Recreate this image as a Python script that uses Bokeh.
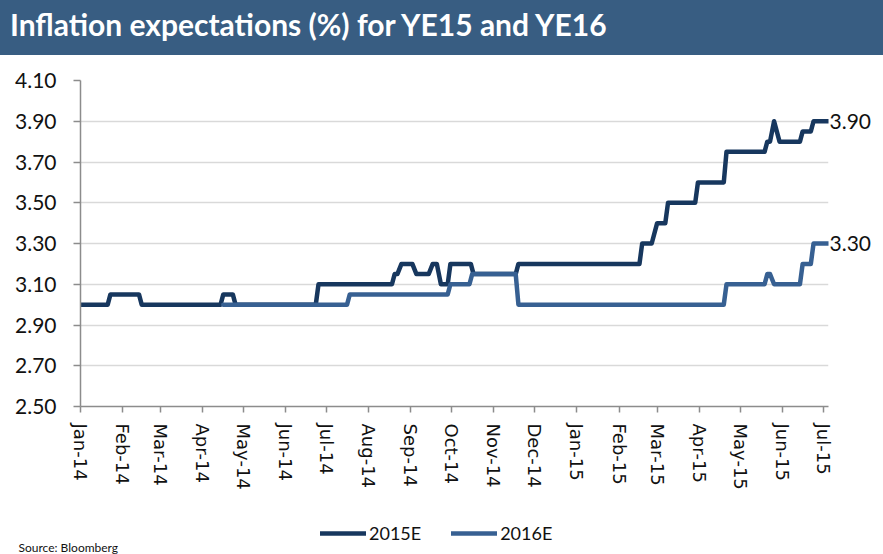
import pandas as pd
from bokeh.plotting import figure
from bokeh.layouts import column
from bokeh.models import (Div, Range1d, FixedTicker, DatetimeTickFormatter,
                          NumeralTickFormatter, Legend, LegendItem, Label,
                          LinearAxis, ColumnDataSource)
from bokeh.embed import file_html
from bokeh.resources import INLINE

TITLE = "Inflation expectations (%) for YE15 and YE16"
SERIES_NAMES = ["2015E", "2016E"]
SOURCE_TEXT = "Source: Bloomberg"

dates_2015e = ["2014-01-01", "2014-01-21", "2014-01-23", "2014-02-13", "2014-02-15",
               "2014-04-14", "2014-04-16", "2014-04-23", "2014-04-25", "2014-06-23",
               "2014-06-25", "2014-08-18", "2014-08-20", "2014-08-22", "2014-08-25",
               "2014-09-02", "2014-09-05", "2014-09-14", "2014-09-17", "2014-09-20",
               "2014-09-23", "2014-09-28", "2014-09-30", "2014-10-15", "2014-10-17",
               "2014-11-17", "2014-11-19", "2015-02-16", "2015-02-18", "2015-02-25",
               "2015-03-01", "2015-03-07", "2015-03-09", "2015-03-29", "2015-03-31",
               "2015-04-19", "2015-04-21", "2015-05-19", "2015-05-21", "2015-05-23",
               "2015-05-26", "2015-05-30", "2015-06-14", "2015-06-16", "2015-06-22",
               "2015-06-24", "2015-07-05"]
values_2015e = [3.00, 3.00, 3.05, 3.05, 3.00,
                3.00, 3.05, 3.05, 3.00, 3.00,
                3.10, 3.10, 3.15, 3.15, 3.20,
                3.20, 3.15, 3.15, 3.20, 3.20,
                3.10, 3.10, 3.20, 3.20, 3.15,
                3.15, 3.20, 3.20, 3.30, 3.30,
                3.40, 3.40, 3.50, 3.50, 3.60,
                3.60, 3.75, 3.75, 3.80, 3.80,
                3.90, 3.80, 3.80, 3.85, 3.85,
                3.90, 3.90]

dates_2016e = ["2014-04-16", "2014-07-16", "2014-07-18", "2014-09-28", "2014-09-30",
               "2014-10-14", "2014-10-16", "2014-11-17", "2014-11-19", "2015-04-19",
               "2015-04-21", "2015-05-19", "2015-05-21", "2015-05-23", "2015-05-26",
               "2015-06-14", "2015-06-16", "2015-06-22", "2015-06-24", "2015-07-05"]
values_2016e = [3.00, 3.00, 3.05, 3.05, 3.10,
                3.10, 3.15, 3.15, 3.00, 3.00,
                3.10, 3.10, 3.15, 3.15, 3.10,
                3.10, 3.20, 3.20, 3.30, 3.30]

x_tick_dates = ["2014-01-01", "2014-02-01", "2014-03-01", "2014-04-01", "2014-05-01",
                "2014-06-01", "2014-07-01", "2014-08-01", "2014-09-01", "2014-10-01",
                "2014-11-01", "2014-12-01", "2015-01-01", "2015-02-01", "2015-03-01",
                "2015-04-01", "2015-05-01", "2015-06-01", "2015-07-01"]
x_tick_labels = ["Jan-14", "Feb-14", "Mar-14", "Apr-14", "May-14", "Jun-14", "Jul-14",
                 "Aug-14", "Sep-14", "Oct-14", "Nov-14", "Dec-14", "Jan-15", "Feb-15",
                 "Mar-15", "Apr-15", "May-15", "Jun-15", "Jul-15"]
y_ticks = [2.50, 2.70, 2.90, 3.10, 3.30, 3.50, 3.70, 3.90, 4.10]
y_tick_labels = ["2.50", "2.70", "2.90", "3.10", "3.30", "3.50", "3.70", "3.90", "4.10"]

X_START = "2014-01-01"
X_END = "2015-07-05"

DARK = "#17375E"
LIGHT = "#376092"
BAR = "#385D82"
TEXT = "#111111"
AXIS = "#8C8C8C"
GRID = "#D9D9D9"

W = 883


def ms(d):
    return float(pd.Timestamp(d).value // 10**6)


src15 = ColumnDataSource(dict(x=pd.to_datetime(dates_2015e), y=values_2015e))
src16 = ColumnDataSource(dict(x=pd.to_datetime(dates_2016e), y=values_2016e))

p = figure(width=W, height=446, x_axis_type="datetime",
           x_range=Range1d(ms(X_START), ms(X_END)), y_range=Range1d(2.5, 4.1),
           output_backend="svg", toolbar_location=None,
           min_border_left=80, min_border_right=55, min_border_top=25,
           min_border_bottom=95)
p.outline_line_color = None
p.background_fill_color = "white"
p.border_fill_color = "white"

r15 = p.line("x", "y", source=src15, line_width=4.5, line_color=DARK,
             line_join="round", line_cap="round")
r16 = p.line("x", "y", source=src16, line_width=4.5, line_color=LIGHT,
             line_join="round", line_cap="round")

# x axis
tick_ms = [ms(d) for d in x_tick_dates]
p.xaxis.ticker = FixedTicker(ticks=tick_ms, minor_ticks=[])
fmt = "%b-%y"
p.xaxis.formatter = DatetimeTickFormatter(milliseconds=fmt, seconds=fmt, minsec=fmt,
                                          minutes=fmt, hourmin=fmt, hours=fmt,
                                          days=fmt, months=fmt, years=fmt)
p.xaxis.major_label_overrides = {t: l for t, l in zip(tick_ms, x_tick_labels)}
p.xaxis.major_label_orientation = "vertical"
p.xaxis.major_label_text_font = "DejaVu Sans"
p.xaxis.major_label_text_font_size = "18px"
p.xaxis.major_label_text_color = TEXT
p.xaxis.major_label_standoff = 11
p.xaxis.major_tick_out = 6
p.xaxis.major_tick_in = 0
p.xaxis.minor_tick_out = 0
p.xaxis.minor_tick_in = 0
p.xaxis.axis_line_color = AXIS
p.xaxis.axis_line_width = 1.5
p.xaxis.major_tick_line_color = AXIS
p.xaxis.major_tick_line_width = 1.5

# y axis
p.yaxis.ticker = FixedTicker(ticks=y_ticks, minor_ticks=[])
p.yaxis.formatter = NumeralTickFormatter(format="0.00")
p.yaxis.major_label_overrides = {t: l for t, l in zip(y_ticks, y_tick_labels)}
p.yaxis.major_label_text_font = "Lato"
p.yaxis.major_label_text_font_size = "21px"
p.yaxis.major_label_text_color = TEXT
p.yaxis.major_label_standoff = 17
p.yaxis.major_tick_out = 7
p.yaxis.major_tick_in = 0
p.yaxis.minor_tick_out = 0
p.yaxis.minor_tick_in = 0
p.yaxis.axis_line_color = AXIS
p.yaxis.axis_line_width = 1.5
p.yaxis.major_tick_line_color = AXIS
p.yaxis.major_tick_line_width = 1.5

p.xgrid.visible = False
p.ygrid.ticker = FixedTicker(ticks=y_ticks, minor_ticks=[])
p.ygrid.grid_line_color = GRID
p.ygrid.grid_line_width = 1.5

# end-of-series value labels, drawn as an axis on the right
end_vals = [values_2015e[-1], values_2016e[-1]]
end_axis = LinearAxis(ticker=FixedTicker(ticks=end_vals, minor_ticks=[]),
                      major_label_overrides={v: f"{v:.2f}" for v in end_vals},
                      formatter=NumeralTickFormatter(format="0.00"))
end_axis.axis_line_color = None
end_axis.major_tick_out = 0
end_axis.major_tick_in = 0
end_axis.minor_tick_out = 0
end_axis.minor_tick_in = 0
end_axis.major_label_standoff = 1
end_axis.major_label_text_font = "Lato"
end_axis.major_label_text_font_size = "21px"
end_axis.major_label_text_color = TEXT
p.add_layout(end_axis, "right")

# legend strip (its own small figure, not frame-aligned with the chart)
lg = figure(width=W, height=53, output_backend="svg", toolbar_location=None,
            x_range=Range1d(0, 1), y_range=Range1d(0, 1),
            x_axis_location=None, y_axis_location=None, min_border=0)
lg.frame_align = False
lg.outline_line_color = None
lg.grid.visible = False
lg.background_fill_color = "white"
lg.border_fill_color = "white"
# one point far outside the visible range, so only the legend swatch shows
l15 = lg.line(x=[5], y=[5], line_width=4.5, line_color=DARK, line_cap="round")
l16 = lg.line(x=[5], y=[5], line_width=4.5, line_color=LIGHT, line_cap="round")
legend = Legend(items=[LegendItem(label=SERIES_NAMES[0], renderers=[l15]),
                       LegendItem(label=SERIES_NAMES[1], renderers=[l16])],
                orientation="horizontal", location=(320, 10),
                glyph_width=46, glyph_height=20, label_height=20,
                label_standoff=3, spacing=30, padding=2, margin=0,
                border_line_color=None, background_fill_alpha=0,
                label_text_font="Lato", label_text_font_size="18px",
                label_text_color=TEXT)
lg.add_layout(legend)
lg.add_layout(Label(x=18, y=0, x_units="screen", y_units="screen",
                    text=SOURCE_TEXT, text_baseline="bottom", text_align="left",
                    text_font="Lato", text_font_size="12px", text_color=TEXT))

title_div = Div(
    text=(f'<div style="font-family:Lato;font-weight:bold;font-size:30px;'
          f'color:#ffffff;line-height:48px;padding-left:10px;white-space:nowrap;">'
          f'{TITLE}</div>'),
    width=W, height=55, margin=0,
    styles={"background-color": BAR})

layout = column(title_div, p, lg, spacing=0)

open("out.html", "w").write(file_html(layout, INLINE))
